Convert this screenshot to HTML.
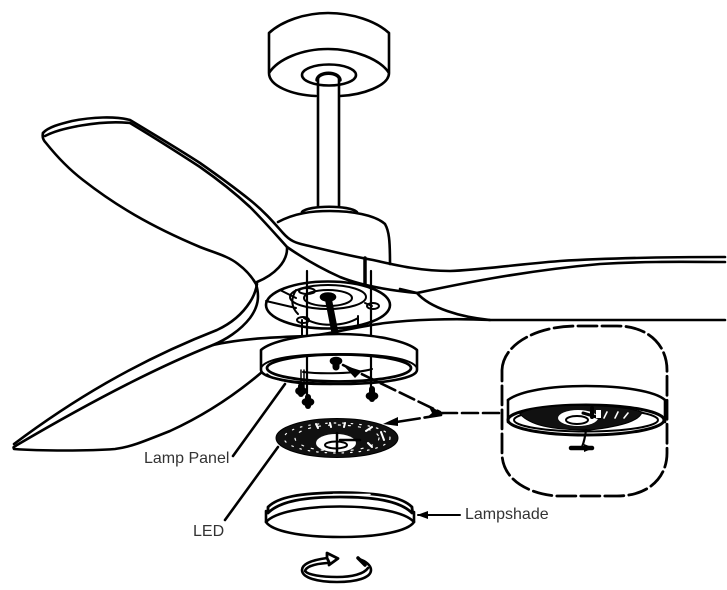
<!DOCTYPE html>
<html><head><meta charset="utf-8"><style>
html,body{margin:0;padding:0;background:#fff;width:727px;height:590px;overflow:hidden}
svg{display:block}
text{font-family:"Liberation Sans",sans-serif;font-size:16px;fill:#333}
</style></head><body>
<svg width="727" height="590" viewBox="0 0 727 590" xmlns="http://www.w3.org/2000/svg">
<g fill="none" stroke="#000" stroke-width="2.6" stroke-linecap="round" stroke-linejoin="round">
<!-- canopy -->
<path d="M269,73 L269,33 C282,21 305,13 328,13 C352,13 376,21 389,33 L389,73 C389,86 362,95 340,96 M316,96 C292,95 269,86 269,73 C278,59 302,49 328,49 C354,49 380,59 389,73"/>
<ellipse cx="329" cy="75" rx="27" ry="10.5"/>
<path d="M317,80 C318,71 339,71 340,80" stroke-width="3.5"/>
<path d="M318,78 L318,206 M339,78 L339,206"/>
<!-- motor -->
<path d="M302,212 C308,205 350,205 357,212" />
<path d="M278,222 C295,213 312,211 330,211 C352,211 375,215 385,224 C389,231 390,240 390,264"/>
<!-- hub plate -->
<ellipse cx="328" cy="305" rx="62" ry="23.5"/>
<ellipse cx="328" cy="297" rx="38" ry="12" stroke-width="2"/>
<ellipse cx="328" cy="298" rx="24" ry="8" stroke-width="2"/>
<path d="M296,290 C290,300 292,308 298,314 M304,318 C320,328 345,326 358,318 M365,303 L372,306 M358,316 L358,325 M266,301 L296,308 M280,290 L296,298" stroke-width="2"/>
<ellipse cx="307" cy="291" rx="8" ry="3" stroke-width="2"/>
<ellipse cx="373" cy="306" rx="6" ry="3" stroke-width="2"/>
<ellipse cx="303" cy="320" rx="6" ry="3" stroke-width="2"/>
<!-- upper-left blade -->
<path d="M43,133 C48,127 60,124 72,121 C92,117 115,116 130,120 C155,135 180,150 200,163 C220,177 235,188 250,200 C265,212 275,224 283,233 C290,241 296,243 305,245 C330,251 350,256 373,260 C395,265 420,271 450,271 C480,270 510,265 560,261 C610,258 670,257 725,257"/>
<path d="M45,136 C60,128 100,120 130,123 C155,138 180,154 200,167 C220,181 235,193 250,207 C265,222 277,236 287,247 C300,256 320,268 340,277 C360,285 385,290 417,293 C450,286 520,271 600,264 C650,261 690,262 725,262"/>
<path d="M43,133 C42,137 43,140 46,143 C58,158 70,170 83,180 C115,205 150,226 200,247 C215,253 228,256 238,264 C246,270 252,277 256,284 C260,297 258,307 250,318 C240,331 225,340 213,345 C150,370 80,408 17,445 C13,448 13,446 14,449 C40,451 90,451 115,449 C130,447 140,443 170,431 C205,415 235,395 262,372"/>
<path d="M14,444 C70,402 135,362 217,330 C232,323 243,313 250,302 C254,296 256,290 257,284"/>
<path d="M287,247 C288,262 274,275 257,282"/>
<path d="M400,289 L417,293 C430,308 460,317 490,320 L725,320"/>
<path d="M213,345 C245,338 280,337 310,336 C335,333 360,326 385,323 C410,320 450,318 490,320"/>
<path d="M365,258 L365,284" stroke-width="3.5"/>
<!-- rods -->
<path d="M307,271 L307,340 M371,271 L371,340" stroke-width="2.2"/>
<path d="M302,320 L302,336" stroke-width="2"/>
<path d="M328,297 L335,333" stroke-width="7"/>
<ellipse cx="328" cy="297" rx="7" ry="3.5" fill="#000"/>
<!-- lamp ring -->
<path d="M261,350 C270,342 300,334 339,334 C378,334 408,342 417,350 L417,370 C417,378 385,384 339,384 C293,384 261,378 261,370 Z" fill="#fff"/>
<ellipse cx="339" cy="368" rx="72" ry="13.5" stroke-width="2.8"/>
<path d="M261,368 C265,358 298,354 339,354 C380,354 412,358 417,368" stroke-width="2"/>
<path d="M303,372 C320,374 355,374 372,369" stroke-width="2"/>
<path d="M267,374 C275,381 300,386 339,384" stroke-width="1.5"/>
<path d="M307,357 L307,398 M371,357 L371,392" stroke-width="2.2"/>
<path d="M301,370 L301,390 M304,370 L304,392" stroke-width="1.5"/>
<!-- screws -->
<path d="M301,386 L301,394" stroke-width="6"/>
<ellipse cx="301" cy="391" rx="4.500" ry="3" fill="#000"/>
<path d="M308,397 L308,406" stroke-width="6"/>
<ellipse cx="308" cy="402" rx="5" ry="3" fill="#000"/>
<path d="M372,389 L372,399" stroke-width="6"/>
<ellipse cx="372" cy="396" rx="5" ry="3" fill="#000"/>
<ellipse cx="336" cy="361" rx="5" ry="3" fill="#000"/>
<path d="M336,361 L336,367" stroke-width="7"/>
<!-- leaders -->
<path d="M233,456 L285,384 M225,520 L278,447"/>
<path d="M441,413 L500,413 M343,365 L440,412" stroke-dasharray="16 5" stroke-width="2.6"/>
<path d="M390,423 L441,415" stroke-dasharray="30 5"/>
<path d="M418,515 L460,515" stroke-width="2"/>
<!-- bubble -->
<path d="M502,370 C503,345 535,326 577,326 L617,326 C648,326 667,345 667,370 L667,453 C667,478 648,496 617,496 L556,496 C525,493 502,478 502,453 Z" stroke-width="2.8" stroke-dasharray="19 5"/>
<!-- detail ring -->
<path d="M508,400 C520,391 550,386 586,386 C622,386 655,391 665,400 L665,422" fill="#fff"/>
<path d="M508,400 L508,422" />
<ellipse cx="586" cy="420" rx="78" ry="15" stroke-width="3" fill="#fff"/>
<ellipse cx="586" cy="420" rx="72" ry="11.5" stroke-width="2"/>
<path d="M520,414 C530,404 610,402 642,412 C640,420 625,426 590,430 C550,430 530,425 520,414 Z" fill="#111" stroke-width="1"/>
<ellipse cx="578" cy="418" rx="20" ry="8" fill="#fff" stroke="none"/>
<ellipse cx="577" cy="420" rx="11" ry="4" stroke-width="2"/>
<path d="M583,413 L600,418" stroke-width="3"/>
<path d="M592,408 L592,417" stroke-width="4"/>
<rect x="596" y="410" width="5" height="8" fill="#fff" stroke="none"/>
<path d="M607,412 L604,418 M618,412 L615,418 M628,413 L624,418" stroke="#fff" stroke-width="1.6"/>
<path d="M586,430 C585,438 584,442 582,447" stroke-width="2.2"/>
<path d="M571,448 L592,448" stroke-width="4.5"/>
<!-- LED panel -->
<ellipse cx="337" cy="438" rx="61" ry="19.5" fill="#111" stroke-width="1"/>
<ellipse cx="337" cy="438" rx="53" ry="15" stroke="#fff" stroke-width="1.2" stroke-dasharray="1.500 7"/>
<ellipse cx="337" cy="438" rx="42" ry="13" stroke="#fff" stroke-width="1.2" stroke-dasharray="2 8"/>
<ellipse cx="336" cy="443" rx="20" ry="9" fill="#fff" stroke="none"/>
<ellipse cx="336" cy="445" rx="11" ry="3.5" stroke-width="2"/>
<path d="M337,433 L337,452 M340,440 L360,440" stroke-width="2.5"/>
<path d="M316,424 L318,428 M330,423 L331,427 M345,423 L344,427 M366,431 L372,427 M381,432 L384,440 M372,447 L368,443" stroke="#fff" stroke-width="2"/>
<!-- lampshade -->
<path d="M268,507 C278,497 300,493 340,492.500 C380,493 402,497 412,507 C412,510 413,511 412,513 C400,501 375,497 340,497 C305,497 280,501 268,513 Z" fill="#fff" stroke-width="2.8"/>
<path d="M333,494.500 L370,494.500" stroke="#fff" stroke-width="1.5"/>
<path d="M266,511 L266,522 C272,531 300,537 340,537 C380,537 408,531 414,522 L414,512"/>
<path d="M266,522 C275,512 305,506.500 340,506.500 C375,506.500 405,512 414,522"/>
<!-- rotation -->
<path d="M327,558 C312,560 302,564 302,570 C302,578 318,582 337,582 C356,582 371,578 371,570 C371,565 365,561 359,559"/>
<path d="M327,563 C313,564 306,567 305,571 C308,575 322,577 337,577 C352,577 364,574 368,568"/>
<path d="M327,553 L338,558.500 L329,565 L329,562 L327,558 Z" fill="#fff" stroke-width="2.800"/>
<path d="M358,558 L365,565" stroke-width="3.500"/>
</g>
<g fill="#000">
<path d="M343,365 L362,371 L355,378 Z"/>
<path d="M383,424 L398,417 L398,426 Z"/>
<path d="M417,515 L428,511 L428,519 Z"/>
<path d="M444,414 L428,405 L432,413 L426,418 Z"/>
<path d="M594,448 L584,444 L584,452 Z"/>
</g>
<text x="144" y="463">Lamp Panel</text>
<text x="193" y="536">LED</text>
<text x="465" y="519">Lampshade</text>
</svg>
</body></html>
